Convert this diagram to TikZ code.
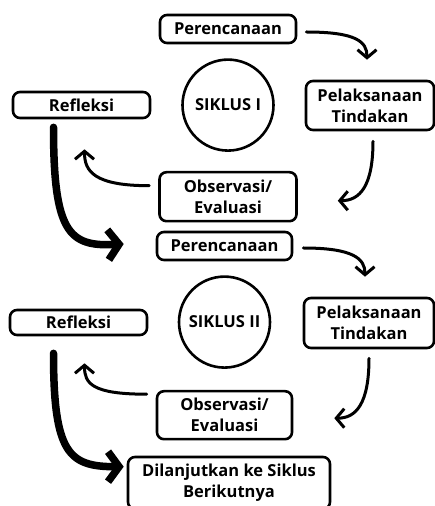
\documentclass[tikz,border=0pt]{standalone}
\usepackage{fontspec}
\setmainfont{Open Sans}
\usetikzlibrary{arrows.meta, positioning}

\begin{document}
\begin{tikzpicture}[
                x=1pt, y=1pt,
                font=\fontsize{16.5}{21}\selectfont\bfseries,
                node distance=14pt,
                box/.style={rectangle, draw, line width=2.6pt, rounded corners=7pt, align=center, inner sep=2pt},
                siklus/.style={circle, draw, line width=2.6pt, minimum size=91pt, inner sep=0pt},
                arrow/.style={line width=3pt, line cap=round, -{Straight Barb[length=8pt, width=19pt]}},
                bigarrow/.style={line width=7.5pt, line cap=round, -{Straight Barb[length=11pt, width=30pt]}}
            ]
            \useasboundingbox (0,0) rectangle (435,506);

            % siklus I
            \node (per1) [box, minimum width=136pt, minimum height=28pt] at (228,477) {Perencanaan};
            \node (siklus1) [siklus, below=14pt of per1] {SIKLUS I};
            \node (pel1) [box, minimum width=128pt, minimum height=49pt] at (370,400.5) {Pelaksanaan\\Tindakan};
            \node (obs1) [box, minimum width=137pt, minimum height=49pt, below=19pt of siklus1] {Observasi/\\Evaluasi};
            \node (ref1) [box, minimum width=137pt, minimum height=26pt] at (81.5,401) {Refleksi};

            % siklus II
            \node (per2) [box, minimum width=135pt, minimum height=28pt] at (224.5,260) {Perencanaan};
            \node (siklus2) [siklus, below=14pt of per2] {SIKLUS II};
            \node (pel2) [box, minimum width=130pt, minimum height=50pt] at (369,183) {Pelaksanaan\\Tindakan};
            \node (obs2) [box, minimum width=135pt, minimum height=48pt, below=21pt of siklus2] {Observasi/\\Evaluasi};
            \node (ref2) [box, minimum width=137pt, minimum height=25pt] at (78.5,183.5) {Refleksi};
            \node (lanjut) [box, minimum width=202pt, minimum height=52pt] at (229,23) {Dilanjutkan ke Siklus\\Berikutnya};

            \draw [arrow] ([xshift=9pt,yshift=-3pt]per1.east) .. controls +(50,0) and +(0,18) .. ([xshift=-3pt,yshift=20pt]pel1.north);
            \draw [arrow] ([xshift=3pt,yshift=-10pt]pel1.south) .. controls +(0,-45) and +(22,0) .. ([xshift=40pt,yshift=-4pt]obs1.east);
            \draw [arrow] ([xshift=-9pt,yshift=11pt]obs1.west) .. controls +(-55,0) and +(0,-22) .. ([xshift=3pt,yshift=-30pt]ref1.south);
            \draw [bigarrow] ([xshift=-28pt,yshift=-8pt]ref1.south) .. controls +(0,-105) and +(-55,-3) .. ([xshift=-32pt,yshift=2pt]per2.west);

            \draw [arrow] ([xshift=10pt,yshift=-2pt]per2.east) .. controls +(50,0) and +(0,18) .. ([xshift=-4pt,yshift=20pt]pel2.north);
            \draw [arrow] ([yshift=-9pt]pel2.south) .. controls +(0,-45) and +(22,0) .. ([xshift=41pt,yshift=-3pt]obs2.east);
            \draw [arrow] ([xshift=-9pt,yshift=21pt]obs2.west) .. controls +(-55,0) and +(0,-20) .. ([xshift=6pt,yshift=-27pt]ref2.south);
            \draw [bigarrow] ([xshift=-25pt,yshift=-17pt]ref2.south) .. controls +(0,-100) and +(-55,0) .. ([xshift=-3pt,yshift=-11pt]lanjut.north west);
\end{tikzpicture}
\end{document}
